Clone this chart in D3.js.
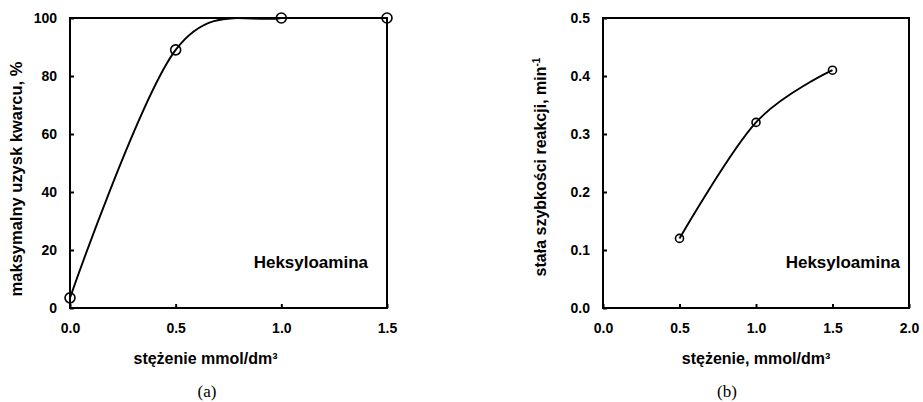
<!DOCTYPE html>
<html>
<head>
<meta charset="utf-8">
<title>Heksyloamina</title>
<script src="https://d3js.org/d3.v7.min.js"></script>
<style>
  body { margin: 0; background: #fff; }
  text { font-family: "Liberation Sans", Arial, sans-serif; }
</style>
</head>
<body>
<div id="chart"></div>
<script>
// chart (a): maximum quartz yield vs concentration
var concA = [0.0, 0.5, 1.0, 1.5]
var yieldA = [3.5, 89, 100, 100]
var xTicksA = [0.0, 0.5, 1.0, 1.5]
var yTicksA = [0, 20, 40, 60, 80, 100]

// chart (b): reaction rate constant vs concentration
var concB = [0.5, 1.0, 1.5]
var rateB = [0.12, 0.32, 0.41]
var xTicksB = [0.0, 0.5, 1.0, 1.5, 2.0]
var yTicksB = [0.0, 0.1, 0.2, 0.3, 0.4, 0.5]

var svg = d3.select("#chart").append("svg")
  .attr("width", 923)
  .attr("height", 402)

function panel(opt) {
  var x = d3.scaleLinear().domain(opt.xDomain).range([opt.left, opt.right])
  var y = d3.scaleLinear().domain(opt.yDomain).range([308, 18])
  var g = svg.append("g")

  var pts = opt.xs.map(function(d, i) { return [d, opt.ys[i]] })

  g.append("clipPath").attr("id", opt.id + "clip")
    .append("rect").attr("x", opt.left).attr("y", 18)
    .attr("width", opt.right - opt.left).attr("height", 290)

  // smoothed line (catmull-rom, like the spreadsheet smoothing)
  g.append("path")
    .datum(pts)
    .attr("clip-path", "url(#" + opt.id + "clip)")
    .attr("fill", "none").attr("stroke", "#000").attr("stroke-width", 1.9)
    .attr("d", d3.line().x(function(d) { return x(d[0]) }).y(function(d) { return y(d[1]) })
      .curve(d3.curveCardinal.tension(0)))

  // frame
  g.append("rect")
    .attr("x", opt.left).attr("y", 18)
    .attr("width", opt.right - opt.left).attr("height", 290)
    .attr("fill", "none").attr("stroke", "#000").attr("stroke-width", 2)

  // ticks pointing inward
  var xa = g.append("g").attr("transform", "translate(0,308)")
    .call(d3.axisBottom(x).tickValues(opt.xTicks).tickSize(-4).tickPadding(15).tickFormat(d3.format(".1f")))
  var ya = g.append("g").attr("transform", "translate(" + opt.left + ",0)")
    .call(d3.axisLeft(y).tickValues(opt.yTicks).tickSize(-4).tickPadding(13).tickFormat(opt.yFormat))
  ;[xa, ya].forEach(function(a) {
    a.select(".domain").remove()
    a.selectAll("line").attr("stroke", "#000").attr("stroke-width", 2)
    a.selectAll("text").attr("fill", "#000").attr("font-size", 14).attr("font-weight", "bold")
      .style("font-family", "'Liberation Sans', Arial, sans-serif")
  })

  g.selectAll("circle.pt").data(pts).enter().append("circle")
    .attr("cx", function(d) { return x(d[0]) })
    .attr("cy", function(d) { return y(d[1]) })
    .attr("r", opt.r)
    .attr("fill", "none").attr("stroke", "#000").attr("stroke-width", 1.6)

  g.append("text")
    .attr("x", opt.labelX).attr("y", 268)
    .attr("text-anchor", "end")
    .attr("font-size", 17).attr("font-weight", "bold")
    .text("Heksyloamina")

  g.append("text")
    .attr("x", (opt.left + opt.right) / 2 + opt.xTitleShift).attr("y", 364)
    .attr("text-anchor", "middle")
    .attr("font-size", 16).attr("font-weight", "bold")
    .text(opt.xTitle)

  var yt = g.append("text")
    .attr("transform", "translate(" + opt.yTitleX + "," + opt.yTitleY + ") rotate(-90)")
    .attr("text-anchor", "middle")
    .attr("font-size", opt.yTitleSize).attr("font-weight", "bold")
  yt.append("tspan").text(opt.yTitle)
  if (opt.yTitleSup) {
    yt.append("tspan").attr("dy", -6).attr("font-size", 10).text(opt.yTitleSup)
  }

  g.append("text")
    .attr("x", opt.capX).attr("y", 397)
    .attr("text-anchor", "middle")
    .attr("font-size", 17)
    .style("font-family", "'Liberation Serif', 'Times New Roman', serif")
    .text(opt.caption)
}

panel({
  id: "a", left: 70, right: 387,
  xDomain: [0, 1.5], yDomain: [0, 100],
  xTicks: xTicksA, yTicks: yTicksA, yFormat: d3.format("d"),
  xs: concA, ys: yieldA, r: 5,
  labelX: 368,
  xTitle: "stężenie mmol/dm³", xTitleShift: -23,
  yTitle: "maksymalny uzysk kwarcu, %", yTitleSize: 16.5, yTitleX: 22, yTitleY: 179,
  capX: 207, caption: "(a)"
})

panel({
  id: "b", left: 603, right: 909,
  xDomain: [0, 2], yDomain: [0, 0.5],
  xTicks: xTicksB, yTicks: yTicksB, yFormat: d3.format(".1f"),
  xs: concB, ys: rateB, r: 4,
  labelX: 900,
  xTitle: "stężenie, mmol/dm³", xTitleShift: 0,
  yTitle: "stała szybkości reakcji, min", yTitleSup: "-1", yTitleSize: 16, yTitleX: 546, yTitleY: 167,
  capX: 727, caption: "(b)"
})
</script>
</body>
</html>
